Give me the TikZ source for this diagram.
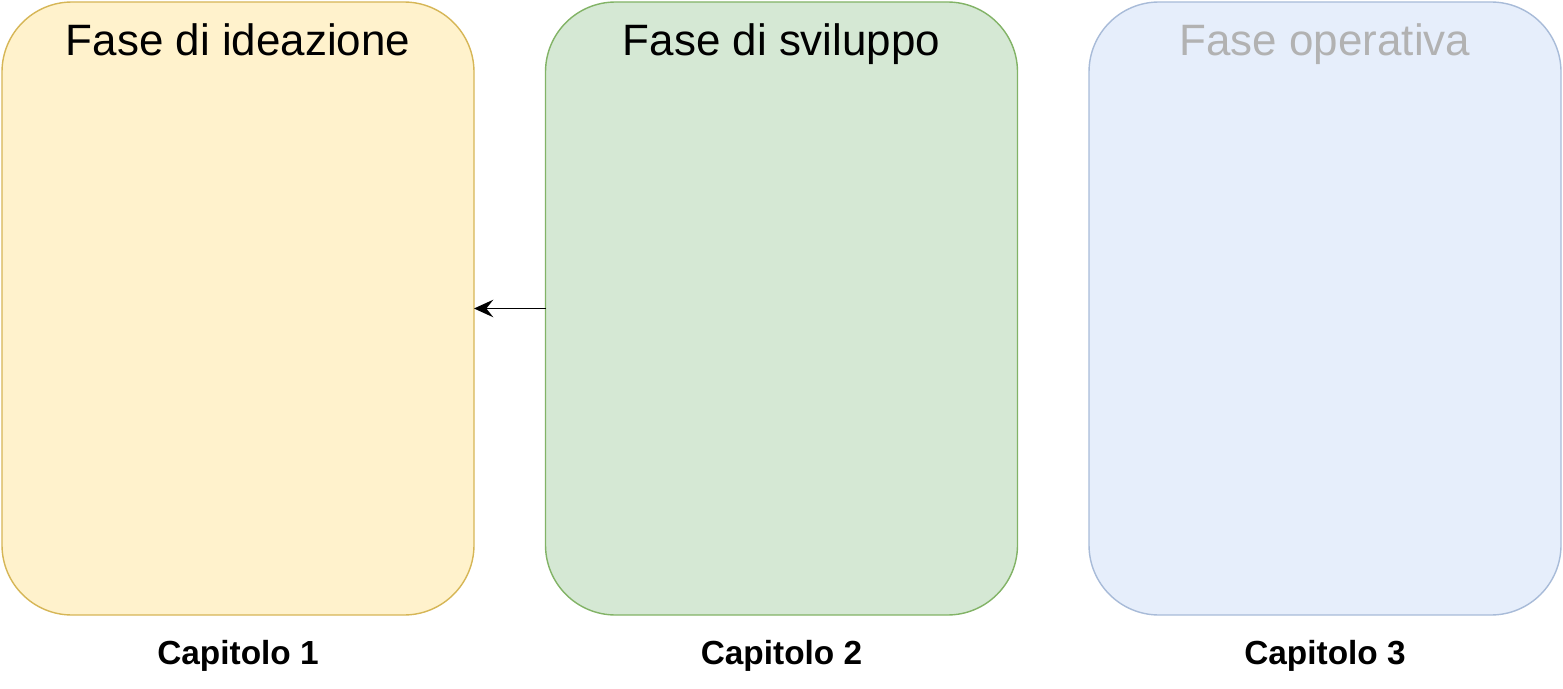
\documentclass[tikz,border=0pt]{standalone}
\usepackage{fontspec}
\setmainfont{Liberation Sans}
\usetikzlibrary{positioning,arrows.meta}
\definecolor{ideafill}{HTML}{FFF2CC}
\definecolor{ideadraw}{HTML}{D6B656}
\definecolor{svilfill}{HTML}{D5E8D4}
\definecolor{svildraw}{HTML}{82B366}
\definecolor{operfill}{HTML}{E6EEFB}
\definecolor{operdraw}{HTML}{A8BBD8}
\begin{document}
\begin{tikzpicture}
  [phase/.style={rectangle,rounded corners=1.4cm,thick,
                 minimum width=9.44cm,minimum height=12.26cm,outer sep=0},
   title/.style={font=\fontsize{25}{29}\selectfont,anchor=north},
   chapter/.style={font=\fontsize{19}{22}\selectfont\bfseries}]
  \useasboundingbox (0,0) rectangle (31.26,13.76);
  \node[phase,draw=ideadraw,fill=ideafill] (ideazione) at (4.76,7.59) {};
  \node[phase,draw=svildraw,fill=svilfill] (sviluppo) at (15.63,7.59) {};
  \node[phase,draw=operdraw,fill=operfill] (operativa) at (26.50,7.59) {};
  \node[title,below=0.3cm of ideazione.north] (t1) {Fase di ideazione};
  \node[title,below=0.3cm of sviluppo.north] (t2) {Fase di sviluppo};
  \node[title,below=0.3cm of operativa.north,text=black!30] (t3) {Fase operativa};
  \node[chapter] (c1) at (4.76,0.64) {Capitolo 1};
  \node[chapter] (c2) at (15.63,0.64) {Capitolo 2};
  \node[chapter] (c3) at (26.50,0.64) {Capitolo 3};
  \draw[thick,-{Stealth[length=11pt,width=10pt,inset=4pt]}] (sviluppo) to (ideazione);
\end{tikzpicture}
\end{document}
